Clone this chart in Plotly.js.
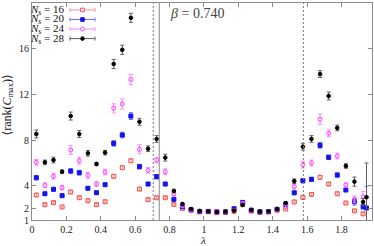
<!DOCTYPE html>
<html>
<head>
<meta charset="utf-8">
<script src="https://cdn.plot.ly/plotly-3.0.1.min.js"></script>
<style>html,body{margin:0;padding:0;background:#fff;}#chart{width:374px;height:246px;}</style>
</head>
<body>
<div id="chart"></div>
<script>
// ---- data ----
const lambda = [0.025,0.075,0.125,0.175,0.225,0.275,0.325,0.375,0.425,0.475,0.525,0.575,0.625,0.675,0.725,
  0.775,0.825,0.875,0.925,0.975,1.025,1.075,1.125,1.175,1.225,1.275,1.325,1.375,1.425,1.475,1.525,
  1.575,1.625,1.675,1.725,1.775,1.825,1.875,1.925];
const lambdaExtra = [1.945];

const rank16 = [3.19,2.34,2.52,2.14,3.45,2.95,2.69,2.34,2.60,4.83,5.58,6.19,3.71,2.78,2.95,
  2.95,2.37,2.02,1.85,1.70,1.72,1.64,1.65,1.76,2.40,1.78,1.65,1.70,1.85,1.96,2.58,
  2.97,3.24,4.74,4.15,3.30,2.49,1.80,1.54];
const err16 = [0.12,0.1,0.1,0.1,0.12,0.12,0.1,0.1,0.1,0.15,0.15,0.15,0.12,0.1,0.1,
  0.1,0.08,0.06,0.05,0.05,0.05,0.05,0.05,0.05,0.08,0.05,0.05,0.05,0.05,0.06,0.1,
  0.12,0.12,0.15,0.12,0.12,0.1,0.1,0.1];

const rank20 = [4.70,3.30,3.69,3.13,5.29,5.14,3.78,3.39,4.09,7.71,8.44,10.10,5.67,4.15,4.79,
  4.15,2.81,2.16,1.90,1.75,1.75,1.72,1.72,1.99,2.54,1.86,1.72,1.74,1.94,2.34,3.38,
  4.44,4.56,7.54,6.49,4.94,3.63,2.60,2.16];
const err20 = [0.18,0.12,0.15,0.12,0.2,0.2,0.15,0.12,0.15,0.25,0.25,0.3,0.2,0.15,0.18,
  0.15,0.1,0.08,0.06,0.05,0.05,0.05,0.05,0.08,0.1,0.06,0.05,0.05,0.06,0.1,0.15,
  0.18,0.18,0.25,0.2,0.18,0.15,0.3,0.2];
const rank20Extra = [2.05];
const err20Extra = [1.9];

const rank24 = [6.05,4.04,4.83,3.83,7.13,6.19,4.91,4.15,5.20,10.78,11.16,13.30,7.19,5.35,6.25,
  5.23,3.28,2.23,1.90,1.75,1.75,1.72,1.72,1.85,2.46,1.84,1.72,1.74,1.88,2.20,3.92,
  5.85,6.00,9.82,8.59,6.60,4.06,2.81,3.04];
const err24 = [0.25,0.2,0.25,0.2,0.4,0.3,0.25,0.2,0.25,0.4,0.45,0.45,0.4,0.25,0.25,
  0.25,0.15,0.1,0.08,0.06,0.06,0.06,0.06,0.08,0.12,0.08,0.06,0.06,0.08,0.1,0.2,
  0.3,0.25,0.45,0.3,0.25,0.2,0.3,0.45];

const rank28 = [8.53,6.05,6.25,5.23,10.10,8.53,6.84,5.90,6.90,14.66,15.90,18.70,9.60,7.24,8.09,
  6.46,3.54,2.40,1.96,1.79,1.76,1.70,1.73,1.82,2.31,1.88,1.73,1.76,1.94,2.48,4.40,
  7.42,8.09,13.78,11.86,9.06,5.73,4.36,2.58];
const err28 = [0.35,0.2,0.25,0.15,0.35,0.3,0.25,0.15,0.2,0.4,0.4,0.4,0.3,0.25,0.3,
  0.3,0.15,0.1,0.08,0.06,0.06,0.06,0.06,0.08,0.1,0.08,0.06,0.06,0.08,0.12,0.2,
  0.3,0.3,0.3,0.35,0.25,0.2,0.4,0.3];
const rank28Extra = [2.99];
const err28Extra = [3.0];

const seriesNames = ['16','20','24','28'];
const xTicks = [0,0.2,0.4,0.6,0.8,1,1.2,1.4,1.6,1.8];
const xTickText = ['0','0.2','0.4','0.6','0.8','1','1.2','1.4','1.6','1.8'];
const yTicks = [1,2,4,8,12,16,20];
const dashedLines = [0.705,1.578];
const solidLines = [0.74];
const betaLabel = '<i>β</i> = 0.740';

// ---- styles ----
const cols = {
  '16': {m:'#f25050', e:'#ff9090', sym:'square-open', size:4},
  '20': {m:'#1414f0', e:'#7070ff', sym:'square', size:4},
  '24': {m:'#ff40ff', e:'#ff88ff', sym:'circle-open', size:4},
  '28': {m:'#000000', e:'#606060', sym:'circle', size:3.6}
};
const serif = '"Liberation Serif","DejaVu Serif",serif';

function tr(x, y, e, key){
  const c = cols[key];
  return {x:x, y:y, type:'scatter', mode:'markers', showlegend:false, cliponaxis:true,
    marker:{symbol:c.sym, size:c.size, color:c.m, line:{color:c.m, width:1}},
    error_y:{type:'data', array:e, visible:true, color:c.e, thickness:1, width:2}};
}
const traces = [
  tr(lambda, rank16, err16, '16'),
  tr(lambda, rank20, err20, '20'),
  tr(lambdaExtra, rank20Extra, err20Extra, '20'),
  tr(lambda, rank24, err24, '24'),
  tr(lambda, rank28, err28, '28'),
  tr(lambdaExtra, rank28Extra, err28Extra, '28')
];

// ---- layout ----
const shapes = [];
dashedLines.forEach(v => shapes.push({type:'line', xref:'x', yref:'paper', x0:v, x1:v, y0:0, y1:1,
  line:{color:'#777', width:1, dash:'2px,2px'}}));
solidLines.forEach(v => shapes.push({type:'line', xref:'x', yref:'paper', x0:v, x1:v, y0:0, y1:1,
  line:{color:'#888', width:1}}));

// legend (gnuplot-style: text left, sample right)
const legSymX = 0.1485, legTextX = 0.103;
const legRowsY = [0.968, 0.924, 0.880, 0.836];
const annotations = [];
seriesNames.forEach((k, i) => {
  const c = cols[k], yy = legRowsY[i];
  annotations.push({xref:'paper', yref:'paper', x:legTextX, y:yy, xanchor:'right', yanchor:'middle',
    showarrow:false, text:'<i>N<sub>s</sub></i> = ' + k, font:{family:serif, size:11, color:'#111'}});
  const pix = (x0,x1,y0,y1,extra) => Object.assign({xref:'paper', yref:'paper', xsizemode:'pixel', ysizemode:'pixel',
    xanchor:legSymX, yanchor:yy, x0:x0, x1:x1, y0:y0, y1:y1}, extra);
  shapes.push(pix(-12.5,12.5,0,0,{type:'line', line:{color:c.e, width:1}}));
  shapes.push(pix(-12.5,-12.5,-2,2,{type:'line', line:{color:c.e, width:1}}));
  shapes.push(pix(12.5,12.5,-2,2,{type:'line', line:{color:c.e, width:1}}));
  const filled = (k === '20' || k === '28');
  const shp = (k === '16' || k === '20') ? 'rect' : 'circle';
  shapes.push(pix(-1.8,1.8,-1.8,1.8,{type:shp, line:{color:c.m, width:1}, fillcolor: filled ? c.m : '#ffffff'}));
});
annotations.push({xref:'paper', yref:'paper', x:0.4, y:0.952, xanchor:'left', yanchor:'middle', showarrow:false,
  text:betaLabel, font:{family:serif, size:14, color:'#444'}});
annotations.push({xref:'paper', yref:'paper', x:-0.072, y:0.53, xanchor:'center', yanchor:'middle', showarrow:false,
  textangle:-90, text:'⟨rank(<i>C</i><sub>max</sub>)⟩', font:{family:serif, size:12, color:'#111'}});
annotations.push({xref:'paper', yref:'paper', x:0.503, y:-0.093, xanchor:'center', yanchor:'middle', showarrow:false,
  text:'<i>λ</i>', font:{family:serif, size:11, color:'#111'}});

const axisCommon = {showline:true, linecolor:'#8c8c8c', linewidth:1, mirror:'ticks', ticks:'inside', ticklen:4,
  tickcolor:'#8c8c8c', tickwidth:1, showgrid:false, zeroline:false, automargin:false,
  tickfont:{family:serif, size:10, color:'#222'}};

const layout = {
  width:374, height:246,
  margin:{l:32, r:2, t:3, b:26, pad:0},
  paper_bgcolor:'#fff', plot_bgcolor:'#fff',
  showlegend:false,
  xaxis:Object.assign({}, axisCommon, {range:[0,1.977], tickmode:'array', tickvals:xTicks, ticktext:xTickText}),
  yaxis:Object.assign({}, axisCommon, {range:[1,20], tickmode:'array', tickvals:yTicks, ticktext:yTicks.map(String)}),
  shapes:shapes,
  annotations:annotations
};

Plotly.newPlot('chart', traces, layout, {staticPlot:true, displayModeBar:false});
</script>
</body>
</html>
